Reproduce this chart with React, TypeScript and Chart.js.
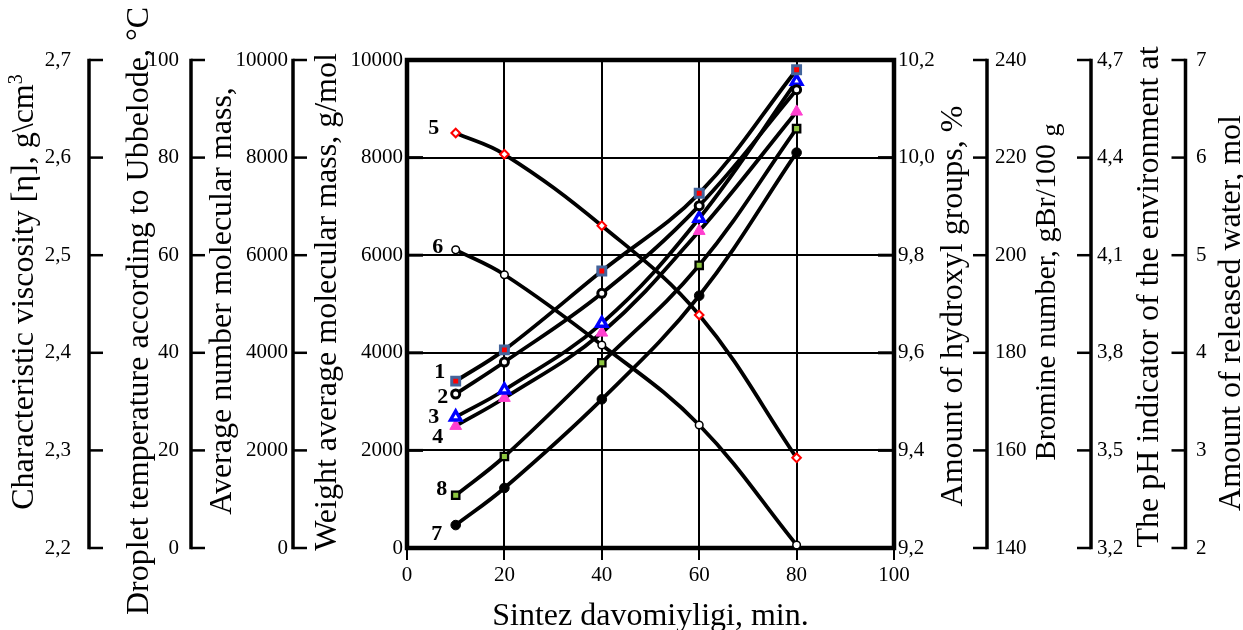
import React, { useEffect, useRef } from 'react';
import { Chart, registerables } from 'chart.js';

Chart.register(...registerables);

// ---------- data ----------
const durations = [10, 20, 40, 60, 80];
const series1 = [3420, 4060, 5676, 7268, 9801];
const series2 = [3156, 3811, 5219, 7015, 9391];
const series3 = [2684, 3238, 4604, 6756, 9566];
const series4 = [2500, 3074, 4412, 6496, 8941];
const series5 = [8504, 8068, 6605, 4775, 1848];
const series6 = [6110, 5600, 4160, 2520, 60];
const series7 = [470, 1230, 3047, 5170, 8102];
const series8 = [1080, 1875, 3797, 5793, 8594];
const seriesLabels = ['1', '2', '3', '4', '5', '6', '7', '8'];

// ---------- tick labels ----------
const xTicks = [0, 20, 40, 60, 80, 100];
const mwTicks = [0, 2000, 4000, 6000, 8000, 10000];
const viscTicks = [2.2, 2.3, 2.4, 2.5, 2.6, 2.7];
const tempTicks = [0, 20, 40, 60, 80, 100];
const mnTicks = [0, 2000, 4000, 6000, 8000, 10000];
const ohTicks = [9.2, 9.4, 9.6, 9.8, 10.0, 10.2];
const brTicks = [140, 160, 180, 200, 220, 240];
const phTicks = [3.2, 3.5, 3.8, 4.1, 4.4, 4.7];
const waterTicks = [2, 3, 4, 5, 6, 7];

// ---------- texts ----------
const xTitle = 'Sintez davomiyligi, min.';
const viscTitle = 'Characteristic viscosity [η], g\\cm';
const tempTitle = 'Droplet temperature according to Ubbelode, °C';
const mnTitle = 'Average number molecular mass,';
const mwTitle = 'Weight average molecular mass, g/mol';
const ohTitle = 'Amount of hydroxyl groups, %';
const brTitle = 'Bromine number, gBr/100';
const phTitle = 'The pH indicator of the environment at';
const waterTitle = 'Amount of released water, mol';

const FONT = '"Liberation Serif", "Times New Roman", serif';
const TICK_SIZE = 21;

// ---------- styles ----------
const markerStyles = [
  { pointStyle: 'rect', radius: 5.6, bg: '#ff0000', border: '#43649b', bw: 3 },
  { pointStyle: 'circle', radius: 4, bg: '#ffffff', border: '#000000', bw: 3 },
  { pointStyle: 'triangle', radius: 6, bg: '#ffffff', border: '#0000ff', bw: 3.4 },
  { pointStyle: 'triangle', radius: 6.8, bg: '#ff3fcf', border: '#ff3fcf', bw: 1 },
  { pointStyle: 'rectRot', radius: 4.3, bg: '#ffffff', border: '#ff0000', bw: 2 },
  { pointStyle: 'circle', radius: 3.8, bg: '#ffffff', border: '#000000', bw: 1.5 },
  { pointStyle: 'circle', radius: 4.8, bg: '#000000', border: '#000000', bw: 1 },
  { pointStyle: 'rect', radius: 5.2, bg: '#8dc63f', border: '#000000', bw: 2.3 },
];
const labelOffsets = [
  [-16, -9], [-13, 3], [-22, 0], [-18, 11], [-22, -5], [-18, -3], [-19, 9], [-14, -6],
];

type AxisDef = {
  id: string;
  ticks: number[];
  decimals: number;
  side: 'left' | 'right';
  lineX: number | null;
  labelX: number;
};

const extraAxes: AxisDef[] = [
  { id: 'visc', ticks: viscTicks, decimals: 1, side: 'left', lineX: 89, labelX: 71 },
  { id: 'temp', ticks: tempTicks, decimals: 0, side: 'left', lineX: 191, labelX: 179 },
  { id: 'mn', ticks: mnTicks, decimals: 0, side: 'left', lineX: 293, labelX: 288 },
  { id: 'oh', ticks: ohTicks, decimals: 1, side: 'right', lineX: null, labelX: 898 },
  { id: 'br', ticks: brTicks, decimals: 0, side: 'right', lineX: 987, labelX: 995 },
  { id: 'ph', ticks: phTicks, decimals: 1, side: 'right', lineX: 1091, labelX: 1097 },
  { id: 'water', ticks: waterTicks, decimals: 0, side: 'right', lineX: 1185.5, labelX: 1196 },
];

type TitlePart = { text: string; dy: number; size: number };
type TitleDef = { parts: TitlePart[]; x: number; y: number };

const axisTitles: TitleDef[] = [
  { parts: [{ text: viscTitle, dy: 0, size: 32 }, { text: '3', dy: -11, size: 20 }], x: 33, y: 292 },
  { parts: [{ text: tempTitle, dy: 0, size: 32 }], x: 148, y: 311 },
  { parts: [{ text: mnTitle, dy: 0, size: 32 }], x: 231, y: 301 },
  { parts: [{ text: mwTitle, dy: 0, size: 32 }], x: 336, y: 302 },
  { parts: [{ text: ohTitle, dy: 0, size: 32 }], x: 962, y: 306 },
  { parts: [{ text: brTitle + ' ', dy: 0, size: 30 }, { text: 'g', dy: 4, size: 26 }], x: 1055, y: 292 },
  { parts: [{ text: phTitle, dy: 0, size: 32 }], x: 1158, y: 297 },
  { parts: [{ text: waterTitle, dy: 0, size: 32 }], x: 1240, y: 313 },
];

const fmt = (v: number, d: number) => v.toFixed(d).replace('.', ',');

function drawRotated(ctx: CanvasRenderingContext2D, t: TitleDef) {
  ctx.save();
  ctx.translate(t.x, t.y);
  ctx.rotate(-Math.PI / 2);
  ctx.textBaseline = 'alphabetic';
  ctx.textAlign = 'left';
  let total = 0;
  const widths = t.parts.map((p) => {
    ctx.font = `${p.size}px ${FONT}`;
    const w = ctx.measureText(p.text).width;
    total += w;
    return w;
  });
  let cx = -total / 2;
  t.parts.forEach((p, i) => {
    ctx.font = `${p.size}px ${FONT}`;
    ctx.fillText(p.text, cx, p.dy);
    cx += widths[i];
  });
  ctx.restore();
}

export default function App() {
  const ref = useRef<HTMLCanvasElement>(null);

  useEffect(() => {
    const canvas = ref.current;
    if (!canvas) return;
    const seriesValues = [series1, series2, series3, series4, series5, series6, series7, series8];

    const lineSets = seriesValues.map((vals, i) => ({
      label: 'Curve ' + seriesLabels[i],
      data: durations.map((x, j) => ({ x, y: vals[j] })),
      borderColor: '#000000',
      borderWidth: 3.8,
      tension: 0.38,
      pointRadius: 0,
      fill: false,
      order: 1,
      xAxisID: 'x',
      yAxisID: 'y',
    }));
    const pointSets = seriesValues.map((vals, i) => ({
      label: 'Points ' + seriesLabels[i],
      data: durations.map((x, j) => ({ x, y: vals[j] })),
      showLine: false,
      pointStyle: markerStyles[i].pointStyle,
      pointRadius: markerStyles[i].radius,
      pointBackgroundColor: markerStyles[i].bg,
      pointBorderColor: markerStyles[i].border,
      pointBorderWidth: markerStyles[i].bw,
      order: 0,
      xAxisID: 'x',
      yAxisID: 'y',
    }));

    const framePlugin = {
      id: 'framePlugin',
      beforeDatasetsDraw(chart: any) {
        const { ctx, chartArea: a, scales } = chart;
        ctx.save();
        ctx.strokeStyle = '#000';
        ctx.lineWidth = 3;
        for (const v of mwTicks) {
          const py = scales.y.getPixelForValue(v);
          ctx.beginPath();
          ctx.moveTo(a.left, py);
          ctx.lineTo(a.left + 16, py);
          ctx.stroke();
        }
        for (const v of ohTicks) {
          const py = scales.oh.getPixelForValue(v);
          ctx.beginPath();
          ctx.moveTo(a.right - 16, py);
          ctx.lineTo(a.right, py);
          ctx.stroke();
        }
        ctx.lineWidth = 4.5;
        ctx.lineJoin = 'miter';
        ctx.strokeRect(a.left, a.top, a.right - a.left, a.bottom - a.top);
        ctx.restore();
      },
      afterDraw(chart: any) {
        const { ctx, scales } = chart;
        ctx.save();
        ctx.fillStyle = '#000';
        ctx.strokeStyle = '#000';
        for (const ax of extraAxes) {
          const sc = scales[ax.id];
          const dir = ax.side === 'left' ? 1 : -1;
          const ys = ax.ticks.map((v) => sc.getPixelForValue(v));
          if (ax.lineX !== null) {
            const lx = ax.lineX;
            ctx.lineWidth = 3.5;
            ctx.beginPath();
            ctx.moveTo(lx, Math.min(...ys) - 1.25);
            ctx.lineTo(lx, Math.max(...ys) + 1.25);
            ctx.stroke();
            ctx.lineWidth = 2.5;
            for (const y of ys) {
              ctx.beginPath();
              ctx.moveTo(lx, y);
              ctx.lineTo(lx + dir * 14, y);
              ctx.stroke();
            }
          }
          ctx.font = `${TICK_SIZE}px ${FONT}`;
          ctx.textBaseline = 'middle';
          ctx.textAlign = ax.side === 'left' ? 'right' : 'left';
          ax.ticks.forEach((v, k) => ctx.fillText(fmt(v, ax.decimals), ax.labelX, ys[k]));
        }
        for (const t of axisTitles) drawRotated(ctx, t);

        ctx.font = `bold 22px ${FONT}`;
        ctx.textAlign = 'center';
        ctx.textBaseline = 'middle';
        seriesLabels.forEach((lab, i) => {
          const el = chart.getDatasetMeta(seriesValues.length + i).data[0];
          if (!el) return;
          ctx.fillText(lab, el.x + labelOffsets[i][0], el.y + labelOffsets[i][1]);
        });
        ctx.restore();
      },
    };

    const hidden = (min: number, max: number, position: 'left' | 'right') => ({
      type: 'linear' as const,
      axis: 'y' as const,
      display: false,
      position,
      min,
      max,
    });

    const chart = new Chart(canvas, {
      type: 'line',
      data: { datasets: [...lineSets, ...pointSets] as any },
      options: {
        animation: false,
        responsive: false,
        devicePixelRatio: 1,
        layout: { padding: { left: 306, right: 349, top: 60, bottom: 0 } },
        plugins: { legend: { display: false }, tooltip: { enabled: false } },
        scales: {
          x: {
            type: 'linear',
            position: 'bottom',
            min: 0,
            max: 100,
            afterBuildTicks: (s: any) => {
              s.ticks = xTicks.map((v) => ({ value: v }));
            },
            afterFit: (s: any) => {
              s.height = 82;
            },
            ticks: {
              color: '#000',
              font: { family: FONT, size: TICK_SIZE },
              padding: 3,
              maxRotation: 0,
              autoSkip: false,
              callback: (v: any) => String(v),
            },
            grid: { color: '#000', lineWidth: 2, tickLength: 12, tickWidth: 2, tickColor: '#000' },
            border: { display: false },
            title: {
              display: true,
              text: xTitle,
              color: '#000',
              font: { family: FONT, size: 32, lineHeight: 0.8 },
              padding: { top: 0, bottom: 1 },
            },
          },
          y: {
            type: 'linear',
            position: 'left',
            min: 0,
            max: 10000,
            afterBuildTicks: (s: any) => {
              s.ticks = mwTicks.map((v) => ({ value: v }));
            },
            afterFit: (s: any) => {
              s.width = 101;
            },
            ticks: {
              color: '#000',
              font: { family: FONT, size: TICK_SIZE },
              padding: 4,
              callback: (v: any) => String(v),
            },
            grid: { color: '#000', lineWidth: 2, drawTicks: false },
            border: { display: false },
          },
          visc: hidden(2.2, 2.7, 'left'),
          temp: hidden(0, 100, 'left'),
          mn: hidden(0, 10000, 'left'),
          oh: hidden(9.2, 10.2, 'right'),
          br: hidden(140, 240, 'right'),
          ph: hidden(3.2, 4.7, 'right'),
          water: hidden(2, 7, 'right'),
        } as any,
      },
      plugins: [framePlugin],
    });

    return () => chart.destroy();
  }, []);

  return (
    <div style={{ position: 'absolute', left: 0, top: 0, width: 1243, height: 630, background: '#fff' }}>
      <canvas ref={ref} width={1243} height={630} style={{ display: 'block', width: 1243, height: 630 }} />
    </div>
  );
}
